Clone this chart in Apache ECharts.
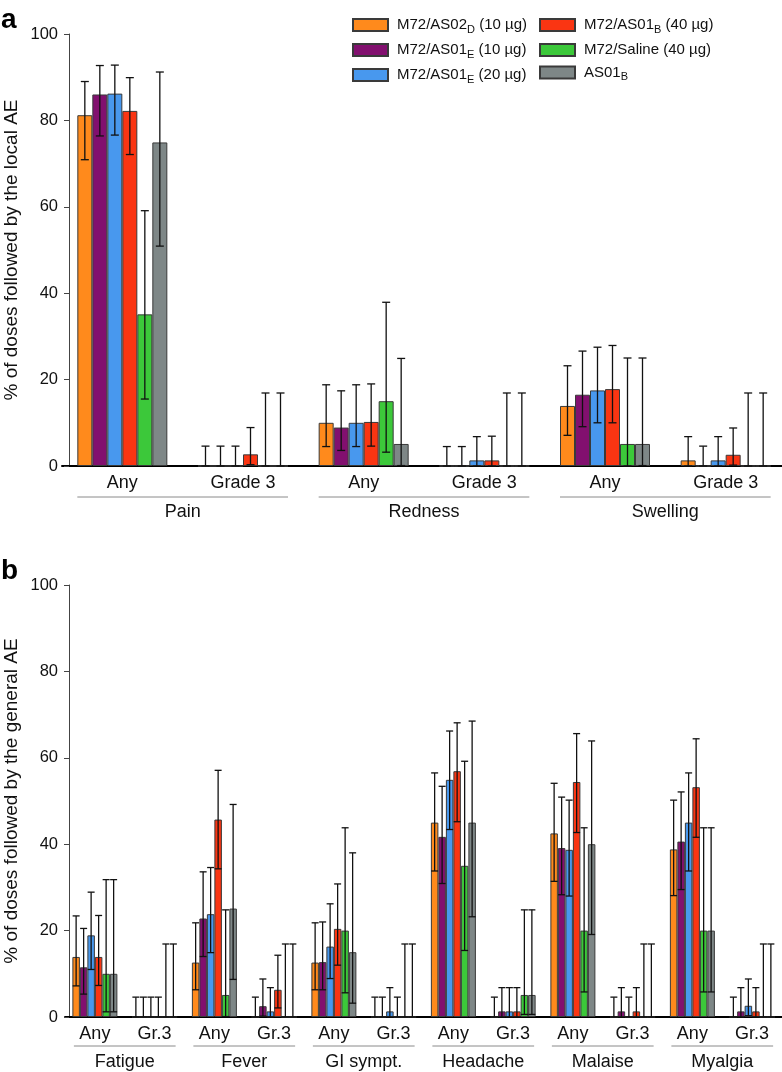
<!DOCTYPE html>
<html>
<head>
    <meta charset="utf-8" />
    <script src="https://cdn.jsdelivr.net/npm/echarts@6/dist/echarts.min.js"></script>
    <style>
        body { margin: 0; background: #fff; }
    </style>
</head>
<body>
<div id="main" style="width: 782px;height:1072px;"></div>

<script>
    // series (same order for both panels)
    const seriesNames = ['M72/AS02D (10 µg)', 'M72/AS01E (10 µg)', 'M72/AS01E (20 µg)',
        'M72/AS01B (40 µg)', 'M72/Saline (40 µg)', 'AS01B'];
    const seriesColors = ['#ff8a1c', '#82106f', '#4898ee', '#fa3512', '#3cc83a', '#7e8787'];

    // panel a : local AE
    const localCats = ['Pain|Any', 'Pain|Grade 3', 'Redness|Any', 'Redness|Grade 3', 'Swelling|Any', 'Swelling|Grade 3'];
    const localGroups = ['Pain', 'Redness', 'Swelling'];
    const localMean = [
        [81.2, 0, 10.0, 0, 13.9, 1.3],
        [86.0, 0, 8.9, 0, 16.5, 0],
        [86.2, 0, 10.0, 1.3, 17.5, 1.3],
        [82.2, 2.7, 10.2, 1.3, 17.8, 2.6],
        [35.1, 0, 15.0, 0, 5.1, 0],
        [74.9, 0, 5.1, 0, 5.1, 0]
    ];
    const localLow = [
        [70.9, 0, 4.5, 0, 7.1, 0],
        [76.4, 0, 3.6, 0, 9.1, 0],
        [76.6, 0, 4.5, 0, 10.0, 0],
        [72.1, 0.3, 4.6, 0, 10.0, 0.2],
        [15.5, 0, 3.2, 0, 0, 0],
        [50.9, 0, 0.1, 0, 0.1, 0]
    ];
    const localHigh = [
        [89.0, 4.6, 18.8, 4.5, 23.2, 6.8],
        [92.7, 4.6, 17.4, 4.5, 26.6, 4.6],
        [92.8, 4.6, 18.8, 6.8, 27.5, 6.8],
        [89.9, 8.9, 19.0, 6.9, 27.9, 8.8],
        [59.1, 16.9, 37.9, 16.9, 25.0, 16.9],
        [91.2, 16.9, 24.9, 16.9, 25.0, 16.9]
    ];

    // panel b : general AE
    const generalCats = ['Fatigue|Any', 'Fatigue|Gr.3', 'Fever|Any', 'Fever|Gr.3', 'GI sympt.|Any', 'GI sympt.|Gr.3',
        'Headache|Any', 'Headache|Gr.3', 'Malaise|Any', 'Malaise|Gr.3', 'Myalgia|Any', 'Myalgia|Gr.3'];
    const generalGroups = ['Fatigue', 'Fever', 'GI sympt.', 'Headache', 'Malaise', 'Myalgia'];
    const generalMean = [
        [13.9, 0, 12.6, 0, 12.6, 0, 45.0, 0, 42.5, 0, 38.8, 0],
        [11.5, 0, 22.8, 2.5, 12.7, 0, 41.7, 1.3, 39.1, 1.3, 40.6, 1.3],
        [18.9, 0, 23.8, 1.3, 16.3, 1.3, 54.9, 1.3, 38.7, 0, 45.0, 2.6],
        [13.9, 0, 45.7, 6.3, 20.4, 0, 56.9, 1.3, 54.4, 1.3, 53.2, 1.3],
        [10.0, 0, 5.1, 0, 20.0, 0, 35.0, 5.1, 20.0, 0, 20.0, 0],
        [10.0, 0, 25.1, 0, 15.0, 0, 45.0, 5.1, 40.0, 0, 20.0, 0]
    ];
    const generalLow = [
        [7.2, 0, 6.3, 0, 6.3, 0, 33.8, 0, 31.4, 0, 28.1, 0],
        [5.3, 0, 14.0, 0.2, 6.3, 0, 30.9, 0, 28.3, 0, 29.5, 0],
        [11.0, 0, 14.9, 0, 8.9, 0, 43.4, 0, 28.0, 0, 33.8, 0.3],
        [7.3, 0, 34.3, 2.1, 12.0, 0, 45.2, 0, 42.7, 0, 41.6, 0],
        [1.2, 0, 0.1, 0, 5.6, 0, 15.4, 0.6, 5.8, 0, 5.8, 0],
        [1.2, 0, 8.7, 0, 3.2, 0, 23.2, 0.6, 19.1, 0, 5.8, 0]
    ];
    const generalHigh = [
        [23.4, 4.6, 21.8, 4.6, 21.8, 4.6, 56.5, 4.6, 54.1, 4.6, 50.2, 4.6],
        [20.5, 4.6, 33.6, 8.8, 22.0, 4.6, 53.4, 6.8, 50.9, 6.8, 52.1, 6.8],
        [28.9, 4.6, 34.6, 6.8, 26.2, 6.8, 66.2, 6.8, 50.2, 4.6, 56.5, 8.8],
        [23.5, 4.6, 57.1, 14.3, 30.8, 4.6, 68.1, 6.8, 65.6, 6.8, 64.4, 6.8],
        [31.8, 16.9, 24.8, 16.9, 43.8, 16.9, 59.2, 24.8, 43.8, 16.9, 43.8, 16.9],
        [31.8, 16.9, 49.2, 16.9, 38.0, 16.9, 68.5, 24.8, 63.9, 16.9, 43.8, 16.9]
    ];

    const FONT = 'Liberation Sans, Arial, Helvetica, sans-serif';
    var myChart = echarts.init(document.getElementById('main'));

    function errData(low, high) {
        var out = [];
        for (var s = 0; s < low.length; s++) {
            for (var c = 0; c < low[s].length; c++) {
                out.push([c, s, low[s][c], high[s][c]]);
            }
        }
        return out;
    }

    function errRender(bw, cap) {
        return function (params, api) {
            var c = api.value(0), s = api.value(1);
            var lo = api.coord([c, api.value(2)]);
            var hi = api.coord([c, api.value(3)]);
            var x = lo[0] + (s - 2.5) * bw;
            var style = { stroke: '#111', lineWidth: 1.3 };
            return {
                type: 'group',
                children: [
                    { type: 'line', shape: { x1: x, y1: lo[1], x2: x, y2: hi[1] }, style: style },
                    { type: 'line', shape: { x1: x - cap / 2, y1: hi[1], x2: x + cap / 2, y2: hi[1] }, style: style },
                    { type: 'line', shape: { x1: x - cap / 2, y1: lo[1], x2: x + cap / 2, y2: lo[1] }, style: style }
                ]
            };
        };
    }

    // group names under the tick labels, with a grey line over each pair
    function groupRender(groups, half, lineDy, textDy) {
        return function (params, api) {
            var k = api.value(0);
            var p1 = api.coord([k, 0]);
            var p2 = api.coord([k + 1, 0]);
            var y0 = p1[1];
            return {
                type: 'group',
                children: [
                    { type: 'line', shape: { x1: p1[0] - half, y1: y0 + lineDy, x2: p2[0] + half, y2: y0 + lineDy },
                      style: { stroke: '#8a8a8a', lineWidth: 1 } },
                    { type: 'text', style: { text: groups[k / 2], x: (p1[0] + p2[0]) / 2, y: y0 + textDy,
                      align: 'center', verticalAlign: 'middle', fontSize: 18, fontFamily: FONT, fill: '#111' } }
                ]
            };
        };
    }

    function barSeries(means, axis, bw) {
        return means.map(function (vals, s) {
            return {
                name: seriesNames[s],
                type: 'bar',
                xAxisIndex: axis,
                yAxisIndex: axis,
                barWidth: bw,
                barGap: '0%',
                data: vals,
                itemStyle: { color: seriesColors[s], borderColor: '#3a3a3a', borderWidth: 1 }
            };
        });
    }

    function xAxisOpt(cats, grid) {
        return {
            type: 'category',
            gridIndex: grid,
            data: cats,
            axisLine: { lineStyle: { color: '#000', width: 2 } },
            axisTick: { show: false },
            axisLabel: {
                interval: 0, fontSize: 18, color: '#111', margin: 8,
                formatter: function (v) { return v.split('|')[1]; }
            }
        };
    }

    function yAxisOpt(grid, off, name) {
        return {
            type: 'value',
            gridIndex: grid,
            min: 0, max: 100, interval: 20,
            offset: off,
            name: name,
            nameLocation: 'middle',
            nameGap: 48,
            nameMoveOverlap: false,
            nameTextStyle: { fontSize: 19, color: '#111' },
            axisLine: { show: true, lineStyle: { color: '#444', width: 1 } },
            axisTick: { show: true, length: 5, lineStyle: { color: '#444' } },
            axisLabel: { fontSize: 16.5, color: '#111', margin: 11 },
            splitLine: { show: false }
        };
    }

    function legendOpt(names, left) {
        return {
            data: names,
            orient: 'vertical',
            left: left, top: 17.5,
            padding: 0,
            icon: 'rect',
            itemWidth: 35, itemHeight: 12,
            itemGap: 7.5,
            formatter: function (n) {
                return ('{m|' + n.replace(/(AS0\d)([A-Z])/, '$1}{s|$2}{m|') + '}').replace('{m|}', '');
            },
            textStyle: {
                padding: [0, 0, 0, 4],
                rich: {
                    m: { fontSize: 15, lineHeight: 20, color: '#111', fontFamily: FONT },
                    s: { fontSize: 11, lineHeight: 11, verticalAlign: 'bottom', color: '#111', fontFamily: FONT }
                }
            }
        };
    }

    var option = {
        animation: false,
        textStyle: { fontFamily: FONT },
        title: [
            { text: 'a', left: 1, top: 6, padding: 0, textStyle: { fontSize: 28, fontWeight: 'bold', color: '#000' } },
            { text: 'b', left: 1, top: 557, padding: 0, textStyle: { fontSize: 28, fontWeight: 'bold', color: '#000' } }
        ],
        legend: [legendOpt(seriesNames.slice(0, 3), 352), legendOpt(seriesNames.slice(3), 539)],
        grid: [
            { left: 62, width: 724, top: 34, height: 432, outerBoundsMode: 'none' },
            { left: 65, width: 717, top: 585, height: 432, outerBoundsMode: 'none' }
        ],
        xAxis: [xAxisOpt(localCats, 0), xAxisOpt(generalCats, 1)],
        yAxis: [
            yAxisOpt(0, -7, '% of doses followed by the local AE'),
            yAxisOpt(1, -4, '% of doses followed by the general AE')
        ],
        series: [].concat(
            barSeries(localMean, 0, 15),
            barSeries(generalMean, 1, 7.5),
            [{
                type: 'custom', xAxisIndex: 0, yAxisIndex: 0, z: 3, clip: false,
                renderItem: errRender(15, 8),
                encode: { x: 0, y: [2, 3] },
                data: errData(localLow, localHigh)
            }, {
                type: 'custom', xAxisIndex: 1, yAxisIndex: 1, z: 3, clip: false,
                renderItem: errRender(7.5, 7),
                encode: { x: 0, y: [2, 3] },
                data: errData(generalLow, generalHigh)
            }, {
                type: 'custom', xAxisIndex: 0, yAxisIndex: 0, clip: false, silent: true,
                renderItem: groupRender(localGroups, 45, 31, 46),
                encode: { x: 0, y: 1 },
                data: localGroups.map(function (g, k) { return [2 * k, 0]; })
            }, {
                type: 'custom', xAxisIndex: 1, yAxisIndex: 1, clip: false, silent: true,
                renderItem: groupRender(generalGroups, 21, 29, 45),
                encode: { x: 0, y: 1 },
                data: generalGroups.map(function (g, k) { return [2 * k, 0]; })
            }]
        )
    };

    myChart.setOption(option);
</script>
</body>
</html>
